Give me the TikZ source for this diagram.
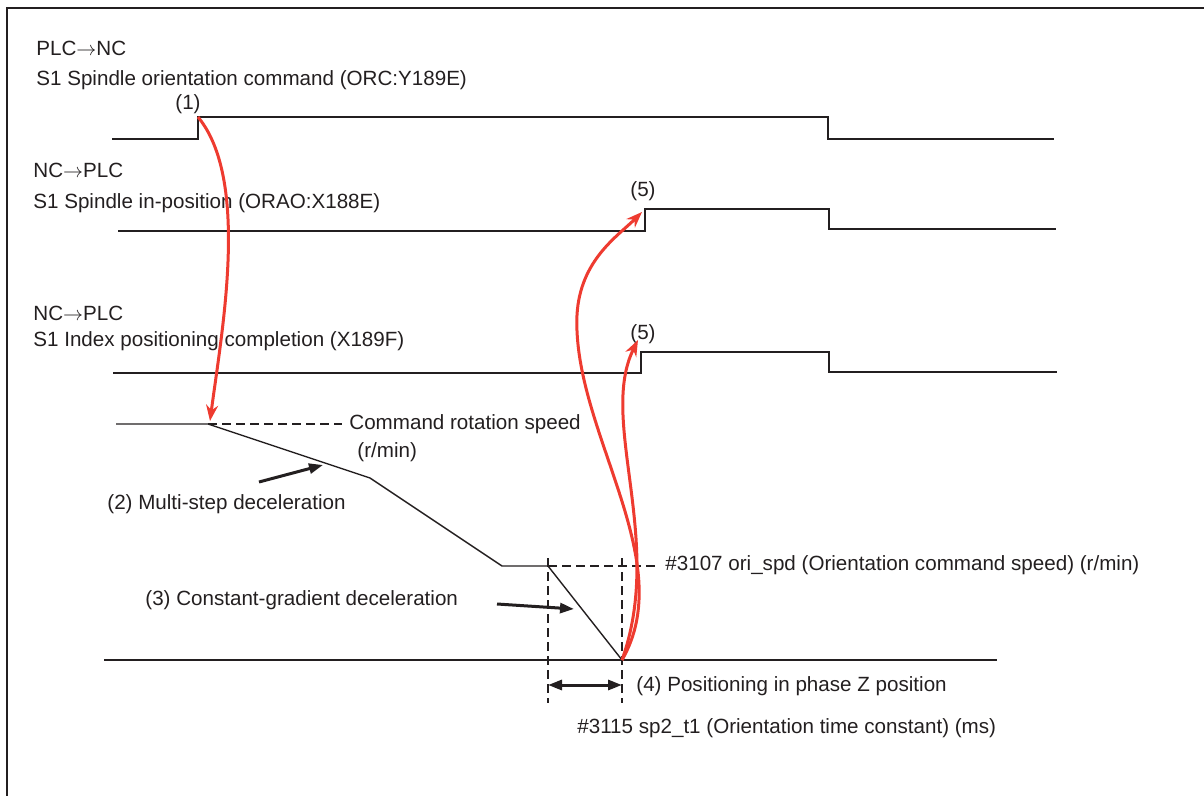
\documentclass[tikz,border=0pt]{standalone}
\usepackage{fontspec}
\setmainfont{Liberation Sans}
\usetikzlibrary{arrows.meta,positioning,calc}
\definecolor{ink}{HTML}{231F20}
\definecolor{flag}{HTML}{EE3B30}
\begin{document}
\begin{tikzpicture}[x=0.5pt,y=-0.5pt,font=\fontsize{10.3}{12}\selectfont,
    lbl/.style={anchor=west,inner sep=0pt,text=ink},
    sig/.style={line width=1pt,draw=ink},
    ramp/.style={line width=0.7pt,draw=ink},
    guide/.style={line width=1pt,draw=ink,dash pattern=on 4.5pt off 2.5pt},
    cue/.style={flag,line width=1.5pt,-{Stealth[length=8pt,width=6pt]}},
    hint/.style={line width=1.5pt,draw=ink,-{Triangle[length=7pt,width=5pt]}},
    span/.style={line width=1.5pt,draw=ink,{Triangle[length=7pt,width=5pt]}-{Triangle[length=7pt,width=5pt]}}]
  \useasboundingbox (0,0) rectangle (1204,796);
  % frame
  \draw[line width=1pt,ink] (7,796) -- (7,8) -- (1204,8);

  % PLC -> NC : orientation command
  \node[lbl] (dirA) at (36,48) {PLC$\rightarrow$NC};
  \node[lbl] (orcT) at (36,80) {S1 Spindle orientation command (ORC:Y189E)};
  \node[text=ink] (one) at (188,104) {(1)};
  \coordinate (orcA) at (112,139);
  \coordinate (orcB) at (198,139);
  \coordinate (orcC) at (198,117);
  \coordinate (orcD) at (828,117);
  \coordinate (orcE) at (828,139);
  \coordinate (orcF) at (1054,139);
  \draw[sig] (orcA) -- (orcB) -- (orcC) -- (orcD) -- (orcE) -- (orcF);

  % NC -> PLC : in-position
  \node[lbl] (dirB) at (33,170) {NC$\rightarrow$PLC};
  \node[lbl] (oraT) at (33,203) {S1 Spindle in-position (ORAO:X188E)};
  \node[text=ink] (fiveA) at (643,191) {(5)};
  \coordinate (oraA) at (118,231);
  \coordinate (oraB) at (645,231);
  \coordinate (oraC) at (645,209);
  \coordinate (oraD) at (829,209);
  \coordinate (oraE) at (829,229);
  \coordinate (oraF) at (1056,229);
  \draw[sig] (oraA) -- (oraB) -- (oraC) -- (oraD) -- (oraE) -- (oraF);

  % NC -> PLC : index positioning completion
  \node[lbl] (dirC) at (33,313) {NC$\rightarrow$PLC};
  \node[lbl] (idxT) at (33,341) {S1 Index positioning completion (X189F)};
  \node[text=ink] (fiveB) at (643,334) {(5)};
  \coordinate (idxA) at (113,373);
  \coordinate (idxB) at (641,373);
  \coordinate (idxC) at (641,352);
  \coordinate (idxD) at (829,352);
  \coordinate (idxE) at (829,372);
  \coordinate (idxF) at (1057,372);
  \draw[sig] (idxA) -- (idxB) -- (idxC) -- (idxD) -- (idxE) -- (idxF);

  % speed profile
  \coordinate (spA) at (116,424);
  \coordinate (spB) at (208,424);
  \coordinate (spC) at (370,478);
  \coordinate (spD) at (502,566);
  \coordinate (spE) at (548,566);
  \coordinate (spF) at (622,660);
  \draw[ramp] (spA) -- (spB) -- (spC) -- (spD) -- (spE) -- (spF);
  \draw[ramp] (104,660) -- (spF) -- (997,660);

  \node[lbl] (cmdT) at (349,424) {Command rotation speed};
  \node[lbl] (cmdU) at (357,452) {(r/min)};
  \draw[guide] (spB) -- (342,424);

  \node[lbl] (oriT) at (665,565) {\#3107 ori\_spd (Orientation command speed) (r/min)};
  \draw[guide] (spE) -- (657,566);
  \draw[guide] (548,558) -- (548,703);
  \draw[guide] (622,558) -- (622,703);
  \coordinate (tcA) at (548,685);
  \coordinate (tcB) at (622,685);
  \draw[span] (tcA) -- (tcB);
  \node[lbl] (posT) at (636,686) {(4) Positioning in phase Z position};
  \node[lbl] (tcT) at (577,728) {\#3115 sp2\_t1 (Orientation time constant) (ms)};

  % deceleration labels
  \node[lbl] (msT) at (107,504) {(2) Multi-step deceleration};
  \draw[hint] (259,482) -- (323,465);
  \node[lbl] (cgT) at (145,600) {(3) Constant-gradient deceleration};
  \draw[hint] (497,604) -- (574,609);

  % red cue arrows
  \draw[cue] (orcC) .. controls (250,180) and (222,330) .. (210,421);
  \draw[cue] (spF) .. controls (680,560) and (572,430) .. (577,315)
    .. controls (580,260) and (618,236) .. (642,212);
  \draw[cue] (spF) .. controls (665,540) and (598,420) .. (638,340);
\end{tikzpicture}
\end{document}
